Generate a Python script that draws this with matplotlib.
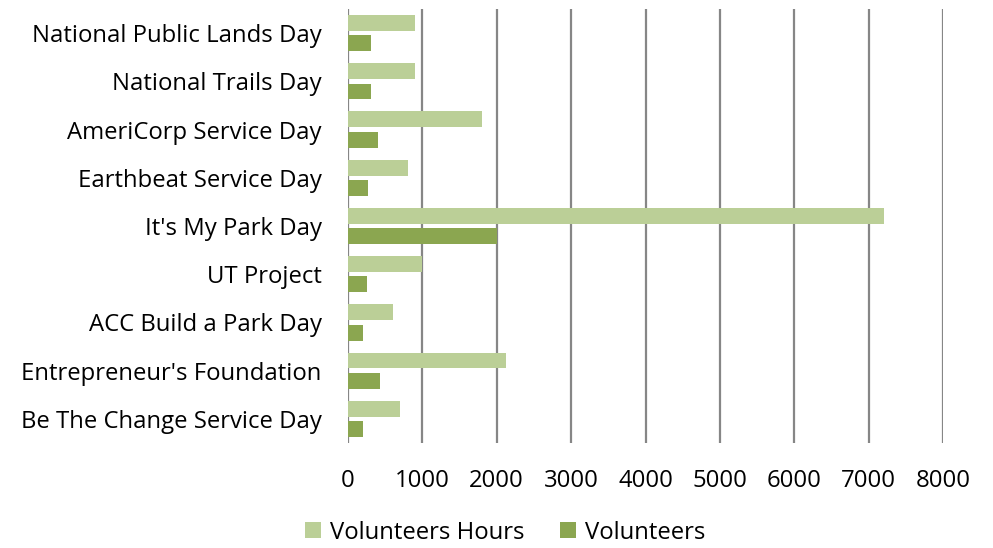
import matplotlib.pyplot as plt
import numpy as np

# events, top to bottom as shown in the chart
events = ["National Public Lands Day", "National Trails Day", "AmeriCorp Service Day",
          "Earthbeat Service Day", "It's My Park Day", "UT Project",
          "ACC Build a Park Day", "Entrepreneur's Foundation", "Be The Change Service Day"]
hours = [900, 900, 1800, 800, 7200, 1000, 600, 2130, 700]
volunteers = [305, 305, 405, 270, 2000, 250, 200, 430, 200]
xticks = [0, 1000, 2000, 3000, 4000, 5000, 6000, 7000, 8000]

light = '#BBCF97'
dark = '#8BA650'
grid = '#868686'

plt.rcParams['font.family'] = ['Open Sans', 'DejaVu Sans']
fs = 17.2

fig = plt.figure(figsize=(9.93, 5.48), dpi=100)
ax = fig.add_axes([348/993, 1 - 443/548, 595/993, 434/548])

y = np.arange(len(events))
h = 0.33
off = 0.21
ax.barh(y - off, hours, height=h, color=light, label='Volunteers Hours', zorder=3)
ax.barh(y + off, volunteers, height=h, color=dark, label='Volunteers', zorder=3)

ax.set_ylim(len(events) - 0.5, -0.5)
ax.set_yticks(y)
ax.set_yticklabels(events, fontsize=fs)
ax.set_xlim(0, 8000)
ax.set_xticks(xticks)
ax.set_xticklabels([str(v) for v in xticks], fontsize=fs)
ax.tick_params(axis='both', length=0)
ax.tick_params(axis='x', pad=19)
ax.tick_params(axis='y', pad=19)

for s in ax.spines.values():
    s.set_visible(False)
for v in xticks:
    ax.axvline(v, color=grid, lw=1.6, zorder=1)

fig.legend(loc='lower center', bbox_to_anchor=(0.509, -0.033), ncol=2, frameon=False,
           fontsize=fs, handlelength=0.65, handleheight=0.65, handletextpad=0.4,
           columnspacing=1.5)

fig.savefig('out.png', dpi=100)
